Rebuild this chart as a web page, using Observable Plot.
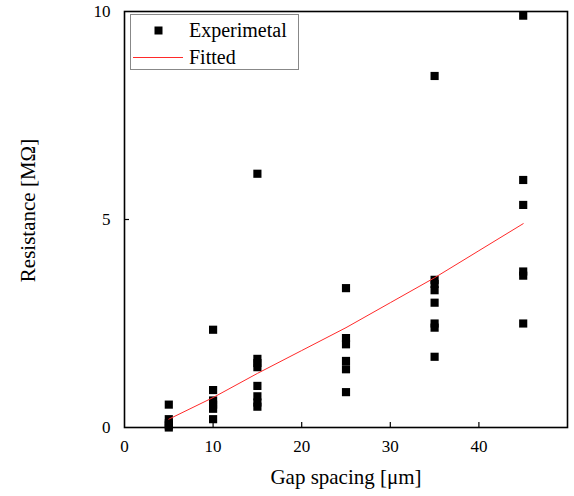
<!DOCTYPE html>
<html><head><meta charset="utf-8">
<script src="https://cdn.jsdelivr.net/npm/d3@7"></script>
<script src="https://cdn.jsdelivr.net/npm/@observablehq/plot@0.6"></script>
<style>
body{margin:0;background:#fff;}
#wrap{position:relative;width:574px;height:496px;font-family:"Liberation Serif","Times New Roman",serif;}
#legend{position:absolute;left:130px;top:14px;width:169px;height:56px;border:1px solid #888;background:#fff;box-sizing:border-box;}
#legend .row{position:absolute;left:58px;font-size:20px;line-height:20px;color:#000;}
</style></head>
<body><div id="wrap"></div>
<script>
const gapX = [5,5,5,5,5, 10,10,10,10,10,10, 15,15,15,15,15,15,15,15, 25,25,25,25,25,25, 35,35,35,35,35,35,35,35, 45,45,45,45,45,45];
const resistance = [0.55,0.2,0.1,0.05,0.0, 2.35,0.9,0.65,0.55,0.45,0.2, 6.1,1.65,1.55,1.45,1.0,0.75,0.6,0.5, 3.35,2.15,2.0,1.6,1.4,0.85, 8.45,3.55,3.45,3.3,3.0,2.5,2.4,1.7, 9.9,5.95,5.35,3.75,3.65,2.5];
const fitX = [5,10,15,20,25,30,35,40,45];
const fitY = [0.2,0.72,1.3,1.85,2.4,3.0,3.6,4.25,4.9];
const xTicks = [0,10,20,30,40];
const yTicks = [0,5,10];
const legendLabels = ["Experimetal","Fitted"];

const pts = gapX.map((x,i)=>({x, y: resistance[i]}));
const fit = fitX.map((x,i)=>({x, y: fitY[i]}));

const chart = Plot.plot({
  width: 574, height: 496,
  marginLeft: 124, marginRight: 7, marginTop: 11, marginBottom: 69,
  style: {fontFamily: '"Liberation Serif","Times New Roman",serif', fontSize: "17px", color: "#000", background: "#fff"},
  x: {domain: [0,50]},
  y: {domain: [0,10]},
  marks: [
    Plot.axisX({ticks: xTicks, tickSize: 0, tickPadding: 12, tickFormat: d=>String(d), fontSize: 17, label: null}),
    Plot.axisX({ticks: xTicks.slice(1), tickSize: 5, text: null, dy: -5, strokeWidth: 1.2, label: null}),
    Plot.axisY({ticks: yTicks, tickSize: 0, tickPadding: 14, tickFormat: d=>String(d), fontSize: 17, label: null}),
    Plot.axisY({ticks: [5], tickSize: 5, text: null, dx: 5, strokeWidth: 1.2, label: null}),
    Plot.text(["Gap spacing [μm]"], {frameAnchor: "bottom", dy: 56, fontSize: 21}),
    Plot.text(["Resistance [MΩ]"], {frameAnchor: "left", textAnchor: "middle", dx: -96, dy: -9, rotate: -90, fontSize: 21}),
    Plot.dot(pts, {x: "x", y: "y", symbol: "square", r: 4.6, fill: "#000", stroke: "none"}),
    Plot.line(fit, {x: "x", y: "y", stroke: "#ff2a2a", strokeWidth: 1}),
    Plot.frame({stroke: "#000", strokeWidth: 1.6})
  ]
});
const wrap = document.getElementById("wrap");
wrap.appendChild(chart);
const lg = document.createElement("div");
lg.id = "legend";
lg.innerHTML = `
<svg width="60" height="56" style="position:absolute;left:0;top:0">
<rect x="23.5" y="11.5" width="8" height="8" fill="#000"/>
<line x1="2" x2="52" y1="42.5" y2="42.5" stroke="#ff2a2a" stroke-width="1"/>
</svg>
<div class="row" style="top:5px">${legendLabels[0]}</div>
<div class="row" style="top:32px">${legendLabels[1]}</div>`;
wrap.appendChild(lg);
</script></body></html>
